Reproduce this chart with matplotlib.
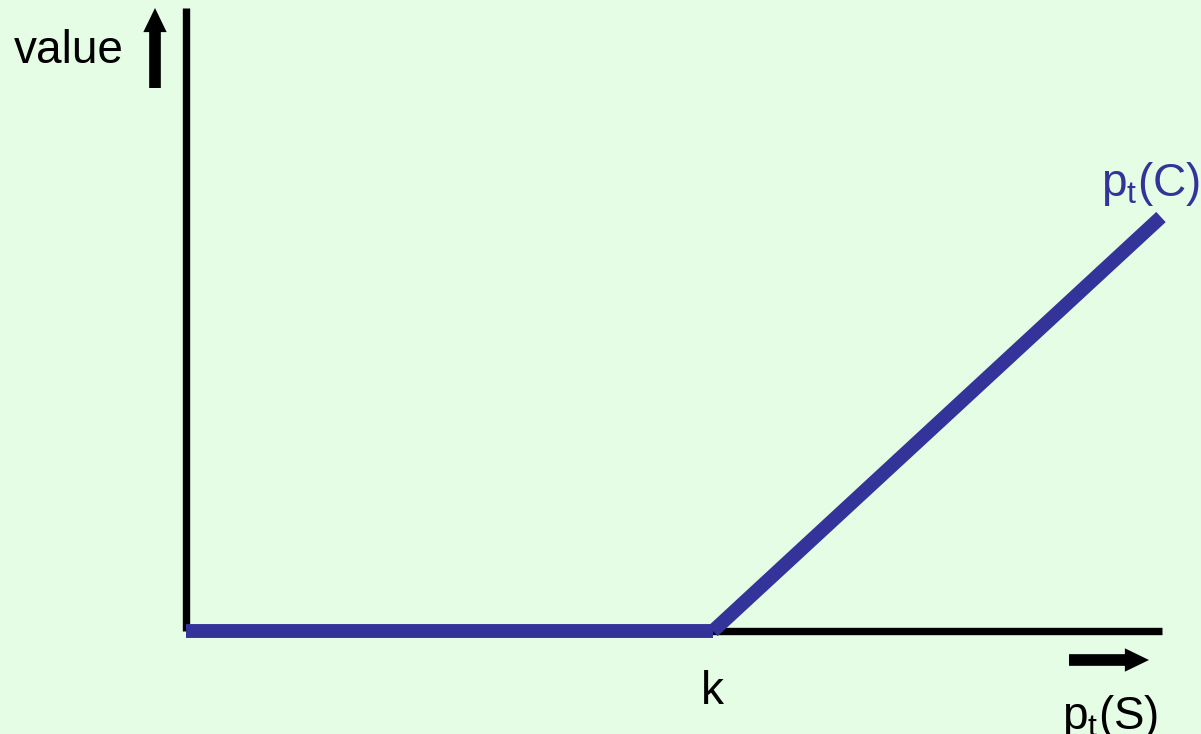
import numpy as np
import matplotlib.pyplot as plt

plt.rcParams['font.family'] = ['Liberation Sans', 'DejaVu Sans']
plt.rcParams['mathtext.default'] = 'regular'

# call option payoff at expiry: value = max(S - k, 0)
strike = 10.0
stock = [0.0, strike, 18.5]
payoff = [max(s - strike, 0.0) for s in stock]

axis_x_end = 18.52   # end of horizontal axis
axis_y_end = 12.79   # top of vertical axis

bg = '#E5FCE5'
navy = '#333399'

fig = plt.figure(figsize=(12.01, 7.34), dpi=100, facecolor=bg)
ax = fig.add_axes([0, 0, 1, 1])
ax.set_facecolor(bg)
ax.set_xlim(-3.53, -3.53 + 1201 / 52.7)
ax.set_ylim(-2.115, -2.115 + 734 / 48.7)
ax.axis('off')

# axes
ax.plot([0, 0], [0, axis_y_end], color='black', lw=5.3, solid_capstyle='butt')
ax.plot([0, axis_x_end], [0, 0], color='black', lw=5.3, solid_capstyle='butt')

# payoff line (flat part, then rising part)
ax.plot(stock[:2], payoff[:2], color=navy, lw=10, solid_capstyle='butt')
ax.plot(stock[1:], payoff[1:], color=navy, lw=10, solid_capstyle='butt')

# direction arrows
arrow = dict(arrowstyle='simple,head_length=0.62,head_width=0.6,tail_width=0.3',
             color='black', lw=0, shrinkA=0, shrinkB=0, mutation_scale=28)
ax.annotate('', xy=(155 / 1201, 1 - 8 / 734), xytext=(155 / 1201, 1 - 88 / 734),
            xycoords='figure fraction', arrowprops=arrow)
ax.annotate('', xy=(1149 / 1201, 1 - 660 / 734), xytext=(1069 / 1201, 1 - 660 / 734),
            xycoords='figure fraction', arrowprops=arrow)

fs = 33
fig.text(124 / 1201, 1 - 63 / 734, 'value', fontsize=fs, ha='right', va='baseline')
fig.text(712 / 1201, 1 - 704 / 734, 'k', fontsize=fs, ha='center', va='baseline')
fig.text(1062 / 1201, 1 - 729 / 734, 'p$_t$(S)', fontsize=fs, ha='left', va='baseline')
fig.text(1101 / 1201, 1 - 196 / 734, 'p$_t$(C)', fontsize=fs, ha='left', va='baseline',
         color=navy)

fig.savefig('out.png', dpi=100, facecolor=bg)
